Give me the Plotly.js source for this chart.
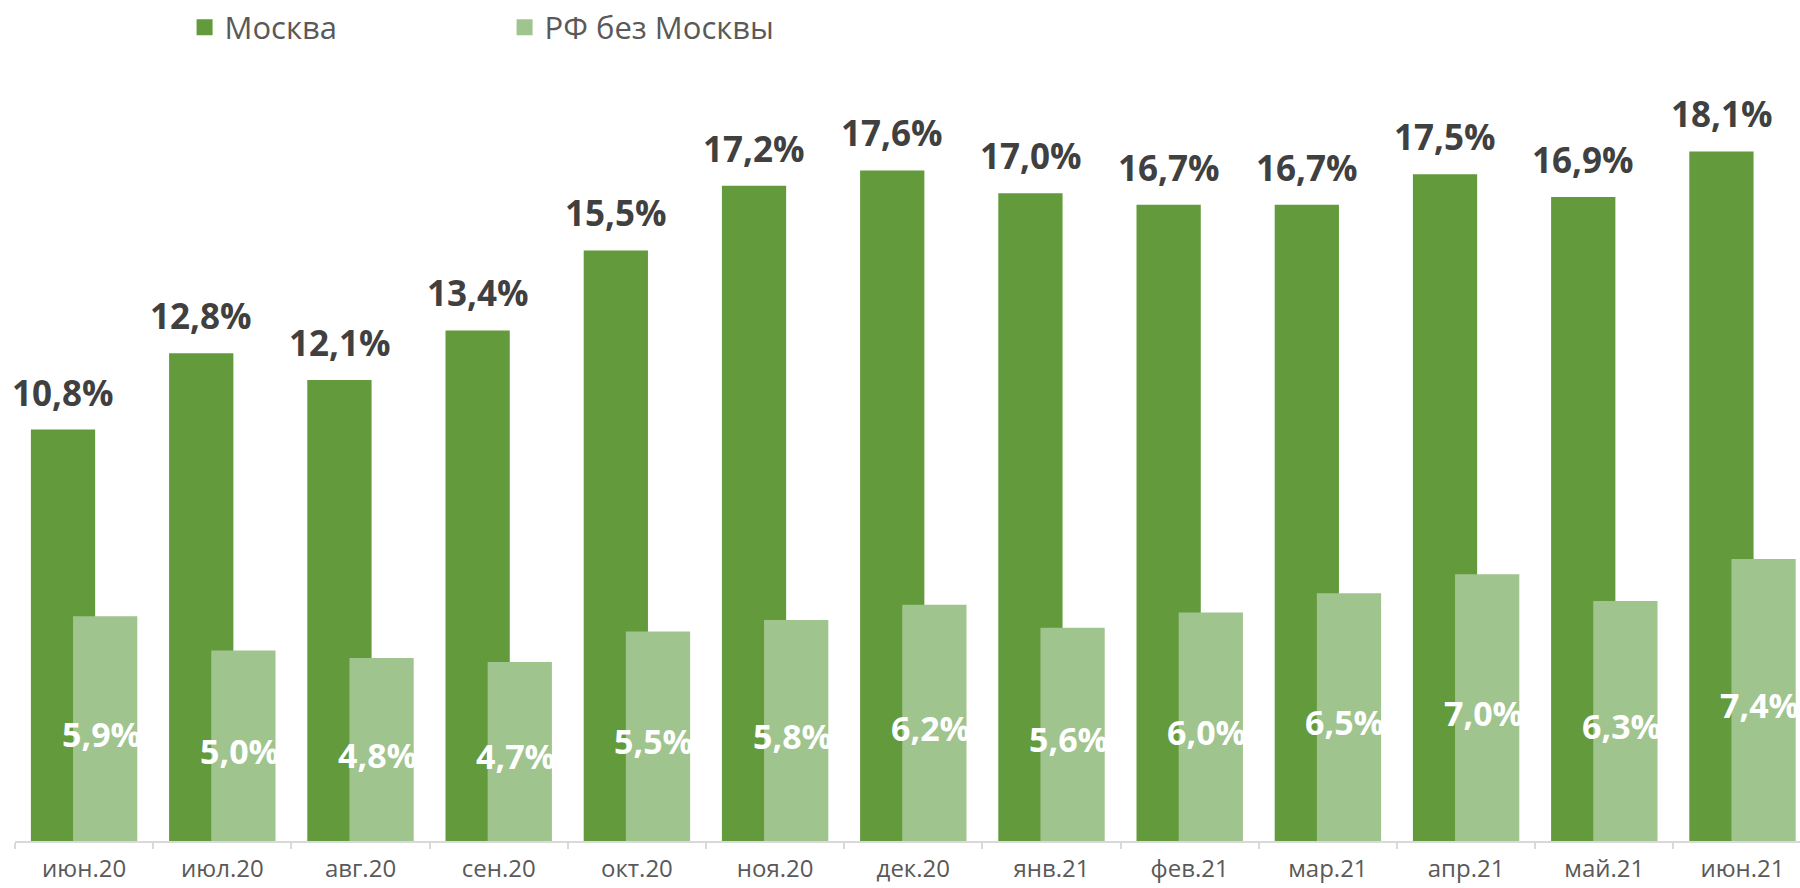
<!DOCTYPE html>
<html>
<head>
<meta charset="utf-8">
<script src="https://cdn.plot.ly/plotly-3.0.1.min.js"></script>
<style>html,body{margin:0;padding:0;background:#fff;}#chart{width:1800px;height:888px;}</style>
</head>
<body>
<div id="chart"></div>
<script>
const categories = ["июн.20","июл.20","авг.20","сен.20","окт.20","ноя.20","дек.20","янв.21","фев.21","мар.21","апр.21","май.21","июн.21"];
const moscow = [10.8, 12.8, 12.1, 13.4, 15.5, 17.2, 17.6, 17.0, 16.7, 16.7, 17.5, 16.9, 18.1];
const rfWithoutMoscow = [5.9, 5.0, 4.8, 4.7, 5.5, 5.8, 6.2, 5.6, 6.0, 6.5, 7.0, 6.3, 7.4];
const seriesNames = ["Москва", "РФ без Москвы"];
const seriesColors = ['#629a3c', '#a0c48e'];

const fmt = v => v.toFixed(1).replace('.', ',') + '%';
const FONT = '"Open Sans", sans-serif';

const traces = [
  {
    type: 'bar', name: seriesNames[0], x: categories, y: moscow,
    width: 0.465, offset: -0.385, showlegend: false,
    marker: {color: seriesColors[0]}, hoverinfo: 'none'
  },
  {
    type: 'bar', name: seriesNames[1], x: categories, y: rfWithoutMoscow,
    width: 0.465, offset: -0.08, showlegend: false,
    marker: {color: seriesColors[1]}, hoverinfo: 'none'
  },
  // legend entries (square swatches)
  {
    type: 'scatter', mode: 'markers', name: seriesNames[0], x: [categories[0]], y: [null],
    marker: {symbol: 'square', size: 16, color: seriesColors[0]}, hoverinfo: 'none'
  },
  {
    type: 'scatter', mode: 'markers', name: seriesNames[1], x: [categories[0]], y: [null],
    marker: {symbol: 'square', size: 16, color: seriesColors[1]}, hoverinfo: 'none'
  }
];

const annotations = [];
categories.forEach((c, i) => {
  annotations.push({
    x: c, y: moscow[i], xref: 'x', yref: 'y', text: fmt(moscow[i]),
    showarrow: false, yanchor: 'bottom', xanchor: 'center', xshift: -21, yshift: 12,
    font: {family: FONT, size: 35, color: '#404040', weight: 'bold'}
  });
  annotations.push({
    x: c, y: rfWithoutMoscow[i] / 2, xref: 'x', yref: 'y', text: fmt(rfWithoutMoscow[i]),
    showarrow: false, yanchor: 'middle', xanchor: 'center', xshift: 17, yshift: -5,
    font: {family: FONT, size: 34, color: '#ffffff', weight: 'bold'}
  });
});

const layout = {
  width: 1800, height: 888,
  margin: {l: 15, r: 0, t: 70, b: 47},
  paper_bgcolor: '#ffffff', plot_bgcolor: '#ffffff',
  barmode: 'overlay',
  showlegend: true,
  legend: {
    orientation: 'h', x: 0.095, xanchor: 'left', y: 1.09, yanchor: 'top',
    font: {family: FONT, size: 31, color: '#595959'},
    entrywidth: 275, traceorder: 'normal', itemclick: false
  },
  xaxis: {
    type: 'category', range: [-0.5, 12.416],
    showgrid: false, zeroline: false,
    showline: true, linecolor: '#d9d9d9', linewidth: 2,
    ticks: 'outside', tickson: 'boundaries', ticklen: 6, tickcolor: '#d9d9d9', tickwidth: 2,
    tickfont: {family: FONT, size: 24, color: '#595959'},
    ticklabelstandoff: 5
  },
  yaxis: {
    range: [0, 771 / 38.1], visible: false, showgrid: false, zeroline: false
  },
  annotations: annotations
};

Plotly.newPlot('chart', traces, layout, {displayModeBar: false, staticPlot: true});
</script>
</body>
</html>
